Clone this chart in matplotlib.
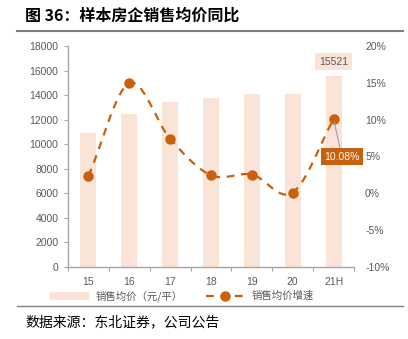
import numpy as np
import matplotlib
matplotlib.use("Agg")
import matplotlib.pyplot as plt
from matplotlib.lines import Line2D
from matplotlib.patches import Patch

plt.rcParams['font.family'] = ['Liberation Sans', 'Noto Sans CJK SC', 'DejaVu Sans']

# Data
years = ["15", "16", "17", "18", "19", "20", "21H"]
avg_price = [10900, 12500, 13400, 13750, 14100, 14100, 15521]
price_growth = [2.35, 14.95, 7.4, 2.45, 2.55, 0.1, 10.08]

left_ticks = [0, 2000, 4000, 6000, 8000, 10000, 12000, 14000, 16000, 18000]
right_ticks = [-10, -5, 0, 5, 10, 15, 20]

bar_color = "#FAE3D7"
line_color = "#C8600E"
text_gray = "#595959"
spine_gray = "#A6A6A6"
cjk = ['Noto Sans CJK SC', 'DejaVu Sans']


def smooth_curve(xs, ys, n=30):
    # Catmull-Rom spline through the data points
    xs = np.asarray(xs, float)
    ys = np.asarray(ys, float)
    px = np.concatenate([[2 * xs[0] - xs[1]], xs, [2 * xs[-1] - xs[-2]]])
    py = np.concatenate([[2 * ys[0] - ys[1]], ys, [2 * ys[-1] - ys[-2]]])
    out_x, out_y = [], []
    for i in range(1, len(px) - 2):
        t = np.linspace(0, 1, n, endpoint=False)
        for arr, out in ((px, out_x), (py, out_y)):
            p0, p1, p2, p3 = arr[i - 1], arr[i], arr[i + 1], arr[i + 2]
            out.extend(0.5 * ((2 * p1) + (-p0 + p2) * t
                              + (2 * p0 - 5 * p1 + 4 * p2 - p3) * t ** 2
                              + (-p0 + 3 * p1 - 3 * p2 + p3) * t ** 3))
    out_x.append(xs[-1])
    out_y.append(ys[-1])
    return np.array(out_x), np.array(out_y)


fig = plt.figure(figsize=(4.08, 3.39), dpi=100)
ax = fig.add_axes([68 / 408, 1 - 267 / 339, (354 - 68) / 408, (267 - 46) / 339])
ax2 = ax.twinx()

x = np.arange(len(years))
ax.bar(x, avg_price, width=0.39, color=bar_color, zorder=2)
ax.set_xlim(-0.5, len(years) - 0.5)
ax.set_ylim(0, 18000)
ax.set_yticks(left_ticks)
ax.set_xticks(np.arange(-0.5, len(years) + 0.5, 1))
ax.set_xticklabels([])
ax.set_xticks(x, minor=True)
ax.set_xticklabels(years, minor=True)
ax.tick_params(axis='x', which='major', length=3, color=spine_gray, direction='out')
ax.tick_params(axis='x', which='minor', length=0, pad=7, labelsize=7.5, labelcolor=text_gray)
ax.tick_params(axis='y', length=3, color=spine_gray, labelsize=7.5, labelcolor=text_gray, pad=4)
for s in ("top", "right"):
    ax.spines[s].set_visible(False)
for s in ("left", "bottom"):
    ax.spines[s].set_color(spine_gray)
    ax.spines[s].set_linewidth(1.0)

# Growth line on the right axis
sx, sy = smooth_curve(x, price_growth)
ax2.plot(sx, sy, color=line_color, lw=1.6, ls=(0, (3.5, 3)), zorder=3)
ax2.plot(x, price_growth, 'o', color=line_color, ms=6.5, zorder=4)
ax2.set_ylim(-10, 20)
ax2.set_yticks(right_ticks)
ax2.set_yticklabels([f"{v}%" for v in right_ticks])
ax2.tick_params(axis='y', length=0, labelsize=7.5, labelcolor=text_gray, pad=8)
for s in ("top", "right", "left", "bottom"):
    ax2.spines[s].set_visible(False)

# Value labels
ax.annotate(f"{avg_price[-1]}", xy=(x[-1], avg_price[-1]), xytext=(0, 10.5),
            textcoords="offset points", ha="center", va="center",
            fontsize=7.5, color=text_gray,
            bbox=dict(boxstyle="square,pad=0.35", fc=bar_color, ec="none"))
ax2.annotate(f"{price_growth[-1]:.2f}%", xy=(x[-1], price_growth[-1]), xytext=(6, -27),
             textcoords="offset points", ha="center", va="center",
             fontsize=7.5, color="white",
             bbox=dict(boxstyle="square,pad=0.3", fc=line_color, ec="none"),
             arrowprops=dict(arrowstyle="-", color="#A0A0A0", lw=0.8,
                             shrinkA=0, shrinkB=2),
             zorder=5, annotation_clip=False)

# Legend
handles = [Patch(color=bar_color),
           Line2D([0], [0], color=line_color, lw=1.6, ls=(0, (3.5, 3)),
                  marker='o', ms=6.5)]
labels = ["销售均价（元/平）", "销售均价增速"]
fig.legend(handles, labels, loc="center", bbox_to_anchor=(182 / 408, 1 - 296 / 339),
           ncol=2, frameon=False, labelcolor=text_gray,
           prop=dict(family=cjk, size=7.5),
           handlelength=3.6, columnspacing=2.2, handletextpad=0.8)

# Title and source
fig.text(25 / 408, 1 - 16 / 339, "图 36：样本房企销售均价同比", fontsize=11.5,
         fontweight="bold", ha="left", va="center", color="black", family=cjk)
fig.add_artist(Line2D([17 / 408, 403 / 408], [1 - 31 / 339] * 2,
                      color="#808080", lw=1.5))
fig.add_artist(Line2D([17 / 408, 403 / 408], [1 - 306 / 339] * 2,
                      color="#808080", lw=1.0))
fig.text(25 / 408, 1 - 322 / 339, "数据来源：东北证券，公司公告", fontsize=10,
         ha="left", va="center", color="black", family=cjk)

fig.savefig("out.png", dpi=100)
